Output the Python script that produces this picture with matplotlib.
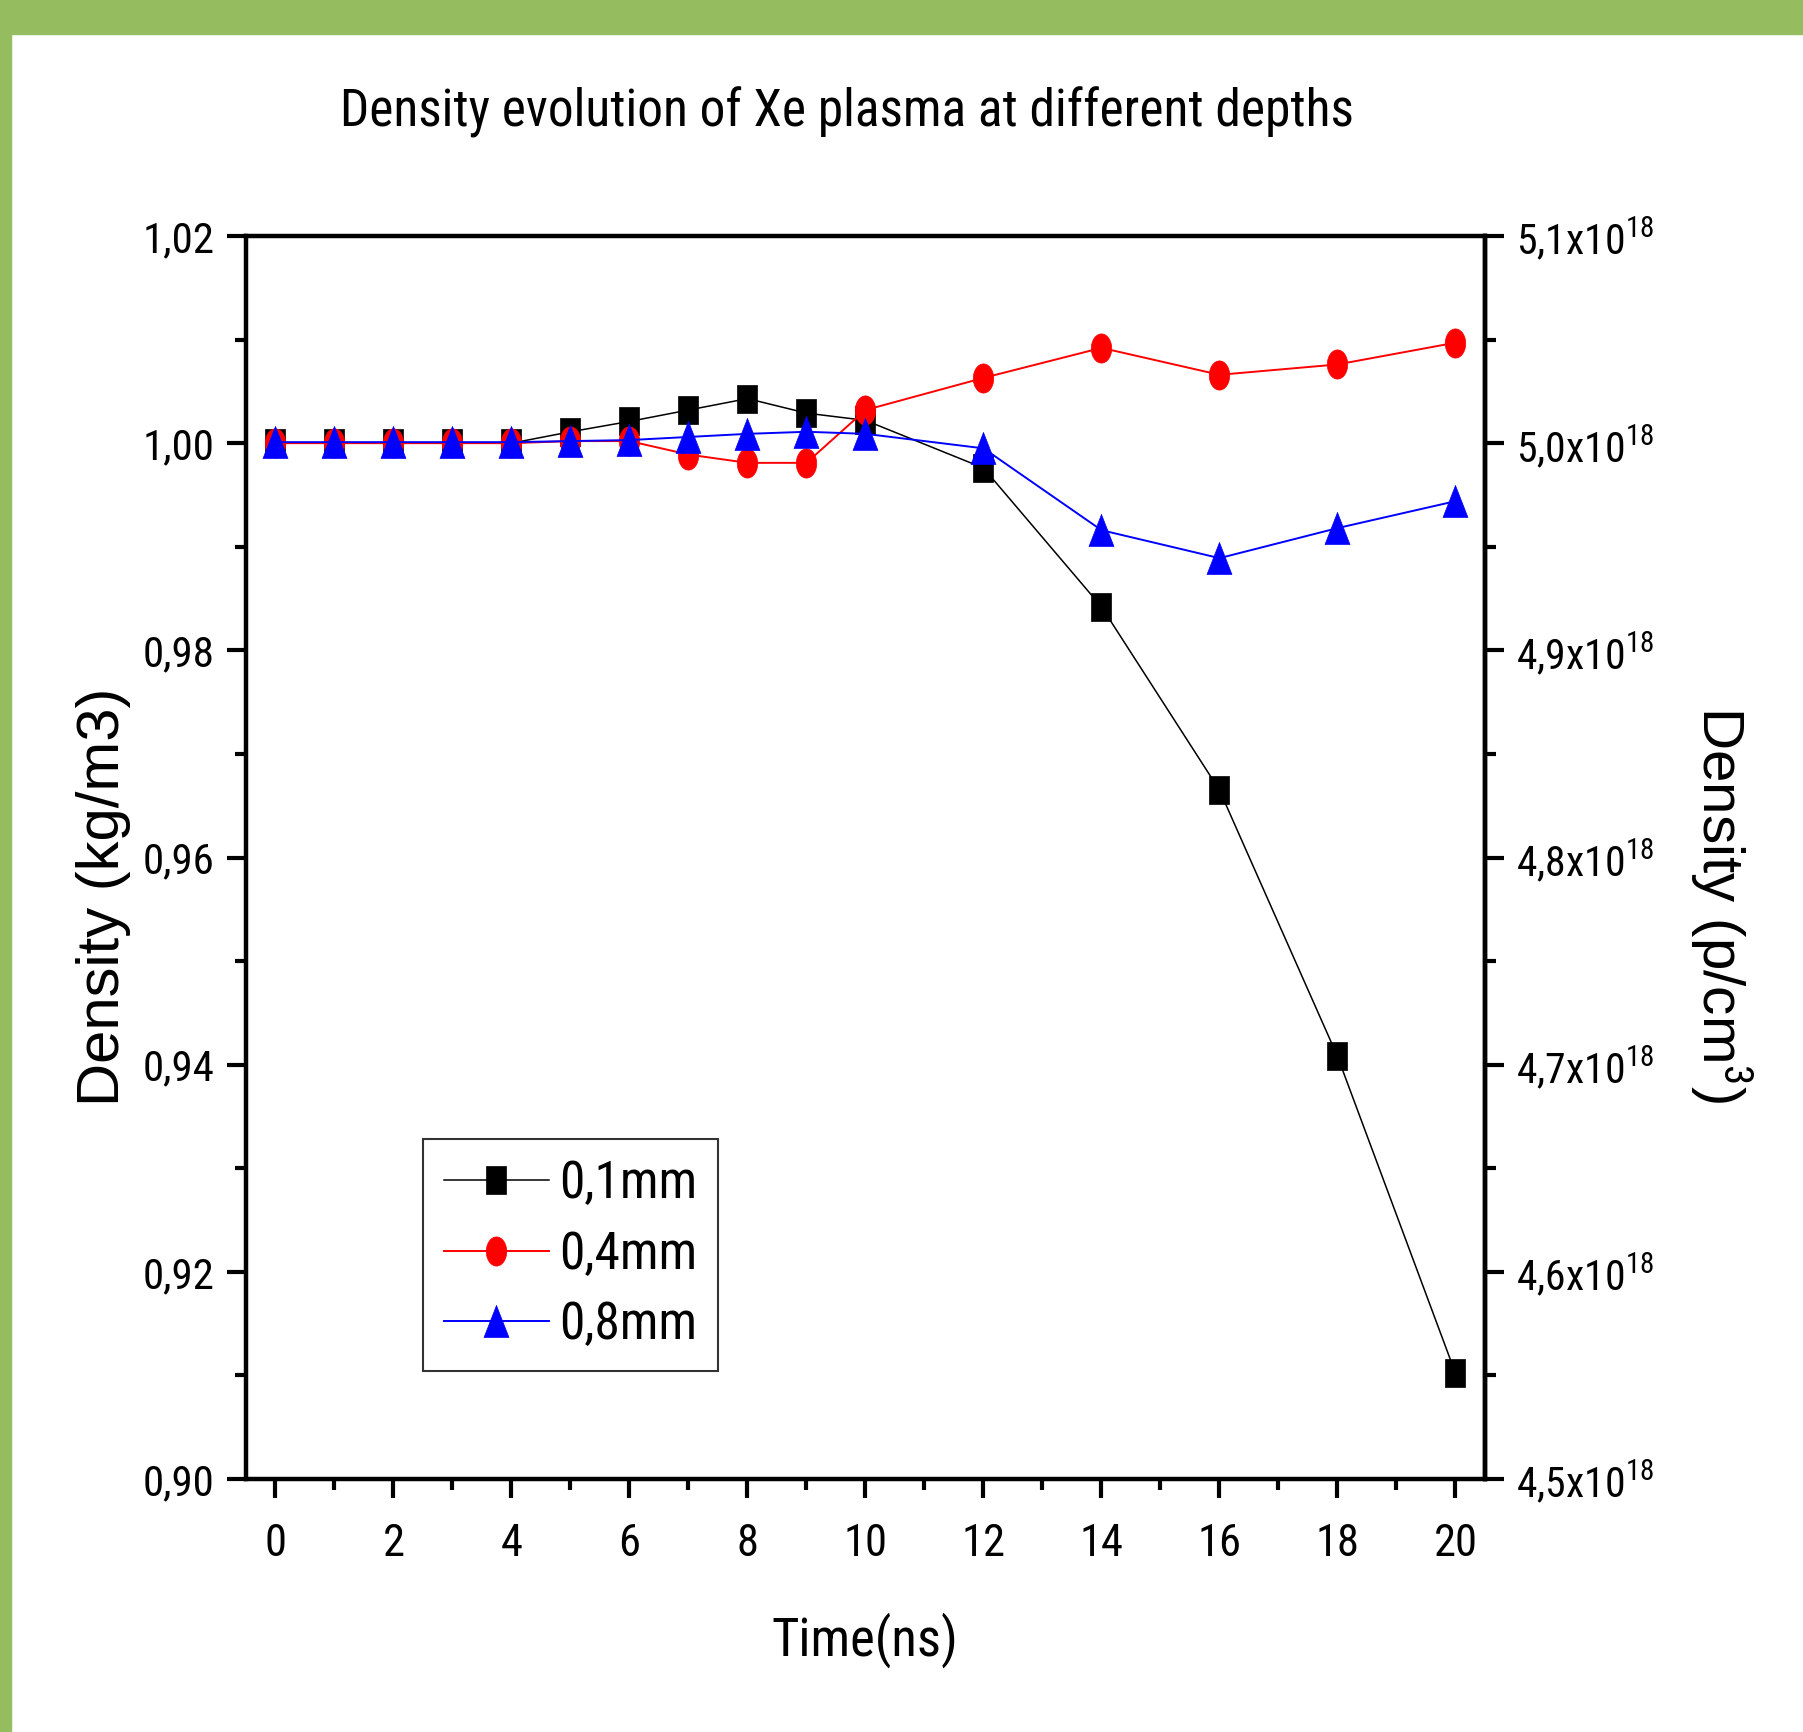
import numpy as np
import matplotlib
matplotlib.use("Agg")
import matplotlib.pyplot as plt
from matplotlib.patches import Rectangle
from matplotlib.ticker import MultipleLocator, FuncFormatter

# data
time_ns = [0, 1, 2, 3, 4, 5, 6, 7, 8, 9, 10, 12, 14, 16, 18, 20]
dens_01mm = [1.0000, 1.0000, 1.0000, 1.0000, 1.0000, 1.0011, 1.0021, 1.0032, 1.0043,
             1.0029, 1.0022, 0.9976, 0.9842, 0.9665, 0.9408, 0.9102]
dens_04mm = [1.0000, 1.0000, 1.0000, 1.0000, 1.0000, 1.0002, 1.0002, 0.9989, 0.9981,
             0.9981, 1.0032, 1.0063, 1.0092, 1.0066, 1.0076, 1.0097]
dens_08mm = [1.0001, 1.0001, 1.0001, 1.0001, 1.0001, 1.0002, 1.0003, 1.0006, 1.0009,
             1.0011, 1.0009, 0.9995, 0.9916, 0.9889, 0.9918, 0.9944]
labels = ["0,1mm", "0,4mm", "0,8mm"]
colors = ["black", "red", "blue"]

NARROW = ["Roboto Condensed", "Liberation Sans", "DejaVu Sans"]
REGULAR = ["Liberation Sans", "DejaVu Sans"]
GREEN = "#95BD5F"

plt.rcParams["font.family"] = NARROW
plt.rcParams["mathtext.fontset"] = "custom"
plt.rcParams["mathtext.rm"] = "Roboto Condensed"
plt.rcParams["mathtext.it"] = "Roboto Condensed"

# stretched-looking markers (the reference image is squashed horizontally)
theta = np.linspace(0, 2 * np.pi, 60)
m_square = [(-0.38, -0.5), (0.38, -0.5), (0.38, 0.5), (-0.38, 0.5), (-0.38, -0.5)]
m_circle = list(zip(0.35 * np.cos(theta), 0.5 * np.sin(theta)))
m_tri = [(0, 0.5), (-0.39, -0.5), (0.39, -0.5), (0, 0.5)]

W, H = 1803, 1732
fig = plt.figure(figsize=(W / 100, H / 100), dpi=100)
fig.patches.append(Rectangle((0, 1 - 34 / H), 1, 34 / H, transform=fig.transFigure,
                             color=GREEN, zorder=0))
fig.patches.append(Rectangle((0, 0), 11 / W, 1, transform=fig.transFigure,
                             color=GREEN, zorder=0))

ax = fig.add_axes([246 / W, 1 - 1479 / H, (1485 - 246) / W, (1479 - 236) / H])

series = [dens_01mm, dens_04mm, dens_08mm]
markers = [m_square, m_circle, m_tri]
sizes = [19.5, 21, 23]
widths = [1.1, 1.4, 1.4]
for y, lab, c, m, ms, lw in zip(series, labels, colors, markers, sizes, widths):
    ax.plot(time_ns, y, color=c, lw=lw, marker=m, ms=ms, mfc=c, mec=c, mew=0.5, label=lab)

ax.set_xlim(-0.5, 20.5)
ax.set_ylim(0.90, 1.02)
ax.xaxis.set_major_locator(MultipleLocator(2))
ax.xaxis.set_minor_locator(MultipleLocator(1))
ax.yaxis.set_major_locator(MultipleLocator(0.02))
ax.yaxis.set_minor_locator(MultipleLocator(0.01))
ax.yaxis.set_major_formatter(FuncFormatter(lambda v, p: f"{v:.2f}".replace(".", ",")))

for s in ax.spines.values():
    s.set_linewidth(3.2)
ax.tick_params(which="both", direction="out", width=3.0, top=False, right=False)
ax.tick_params(which="major", length=13.5)
ax.tick_params(which="minor", length=8)
ax.tick_params(axis="y", labelsize=31, pad=9)
ax.tick_params(axis="x", labelsize=32, pad=18)

sec = ax.secondary_yaxis("right", functions=(lambda v: v * 5, lambda v: v / 5))
sec.yaxis.set_major_locator(MultipleLocator(0.1))
sec.yaxis.set_minor_locator(MultipleLocator(0.05))
sec.yaxis.set_major_formatter(
    FuncFormatter(lambda v, p: f"{v:.1f}".replace(".", ",") + r"x10$^{18}$"))
sec.spines["right"].set_linewidth(3.2)
sec.tick_params(which="both", direction="out", width=3.0)
sec.tick_params(which="major", length=13.5, labelsize=30, pad=9)
sec.tick_params(which="minor", length=8)

ax.set_xlabel("Time(ns)", fontsize=38)
ax.xaxis.set_label_coords(0.4996, -0.107)
ax.set_ylabel("Density (kg/m3)", fontsize=43, family=REGULAR,
              va="center", ha="center", rotation_mode="default")
ax.yaxis.set_label_coords(-0.115, 0.468)
sec.set_ylabel("Density (p/cm$^3$)", fontsize=42, family=REGULAR, rotation=270,
               va="center", ha="center", rotation_mode="default")
sec.yaxis.set_label_coords(1.191, 0.462, transform=ax.transAxes)

fig.text(847 / W, 1 - 127 / H, "Density evolution of Xe plasma at different depths",
         fontsize=37, ha="center", va="baseline")

leg = ax.legend(loc="lower left", bbox_to_anchor=(0.143, 0.087), borderaxespad=0,
                fontsize=37, frameon=True, fancybox=False, edgecolor="black",
                handlelength=2.05, handletextpad=0.2, borderpad=0.4, labelspacing=0.4)
leg.get_frame().set_linewidth(1.5)

fig.savefig("out.png", dpi=100)
